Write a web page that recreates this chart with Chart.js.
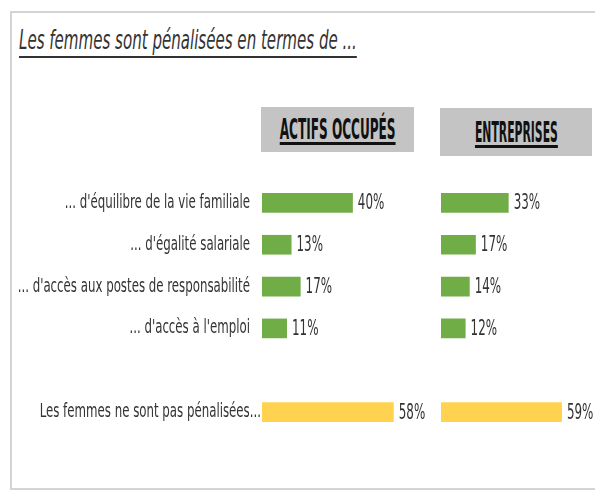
<!DOCTYPE html>
<html>
<head>
<meta charset="utf-8">
<script src="https://cdn.jsdelivr.net/npm/chart.js@4/dist/chart.umd.min.js"></script>
<style>
  body { margin: 0; background: #fff; width: 595px; height: 490px; position: relative; overflow: hidden; font-family: 'DejaVu Sans Condensed', 'DejaVu Sans', sans-serif; color: #333; }
  .frame { position: absolute; left: 10px; top: 11px; width: 600px; height: 475px; border: 2px solid #d4d4d4; }
  .title { position: absolute; left: 19px; top: 24px; font-size: 27px; font-style: italic; text-decoration: underline; text-decoration-thickness: 1.5px; text-underline-offset: 7px; color: #333; transform: scaleX(0.62); transform-origin: left center; white-space: nowrap; }
  .head { position: absolute; background: #c4c4c4; display: flex; align-items: center; justify-content: center; }
  .head span { font-weight: bold; font-size: 28px; color: #111; text-decoration: underline; text-decoration-thickness: 3px; text-underline-offset: 3px; white-space: nowrap; }
  #left { position: absolute; left: 0; top: 0; }
  #right { position: absolute; left: 440px; top: 0; }
</style>
</head>
<body>
<div class="frame"></div>
<div class="title">Les femmes sont pénalisées en termes de ...</div>
<div class="head" style="left:261px;top:107px;width:153px;height:45px;"><span style="transform:scaleX(0.48)">ACTIFS OCCUPÉS</span></div>
<div class="head" style="left:440px;top:108px;width:152px;height:48px;"><span style="transform:scaleX(0.43)">ENTREPRISES</span></div>
<canvas id="left" width="440" height="490"></canvas>
<canvas id="right" width="155" height="490"></canvas>
<script>
const categories = [
  "... d'équilibre de la vie familiale",
  "... d'égalité salariale",
  "... d'accès aux postes de responsabilité",
  "... d'accès à l'emploi",
  "",
  "Les femmes ne sont pas pénalisées..."
];
const actifsOccupes = [40, 13, 17, 11, null, 58];
const entreprises = [33, 17, 14, 12, null, 59];
const barColors = ['#70ad47', '#70ad47', '#70ad47', '#70ad47', '#70ad47', '#ffd34f'];

const FONT = "'DejaVu Sans Condensed', 'DejaVu Sans', sans-serif";

// draw condensed text (the original uses a narrow face)
function squeezed(ctx, text, x, y, sx, align) {
  ctx.save();
  ctx.translate(x, y);
  ctx.scale(sx, 1);
  ctx.textAlign = align;
  ctx.fillText(text, 0, 0);
  ctx.restore();
}

// value labels at the end of each bar, category labels on the left chart
const textLabels = {
  id: 'textLabels',
  afterDatasetsDraw(chart, args, opts) {
    const ctx = chart.ctx;
    const meta = chart.getDatasetMeta(0);
    const yScale = chart.scales.y;
    ctx.save();
    ctx.fillStyle = '#333';
    ctx.textBaseline = 'middle';
    ctx.font = '21px ' + FONT;
    meta.data.forEach((bar, i) => {
      const v = chart.data.datasets[0].data[i];
      if (v == null) return;
      squeezed(ctx, v + '%', bar.x + 5, bar.y + 1, 0.63, 'left');
    });
    if (opts.categories) {
      ctx.font = '19px ' + FONT;
      chart.data.labels.forEach((lab, i) => {
        if (!lab) return;
        const pad = i === chart.data.labels.length - 1 ? 1 : 12;
        squeezed(ctx, lab, chart.chartArea.left - pad, yScale.getPixelForValue(i), 0.69, 'right');
      });
    }
    ctx.restore();
  }
};

function makeChart(id, values, withLabels, pad) {
  return new Chart(document.getElementById(id), {
    type: 'bar',
    data: {
      labels: categories,
      datasets: [{
        data: values,
        backgroundColor: barColors,
        borderWidth: 0,
        barPercentage: 0.47,
        categoryPercentage: 1
      }]
    },
    options: {
      indexAxis: 'y',
      responsive: false,
      animation: false,
      layout: { padding: pad },
      plugins: {
        legend: { display: false },
        tooltip: { enabled: false },
        textLabels: { categories: withLabels }
      },
      scales: {
        x: { display: false, min: 0, max: 70 },
        y: { display: false }
      }
    },
    plugins: [textLabels]
  });
}

makeChart('left', actifsOccupes, true, { top: 182, bottom: 57, left: 262, right: 19 });
makeChart('right', entreprises, false, { top: 182, bottom: 57, left: 1, right: 10.5 });
</script>
</body>
</html>
